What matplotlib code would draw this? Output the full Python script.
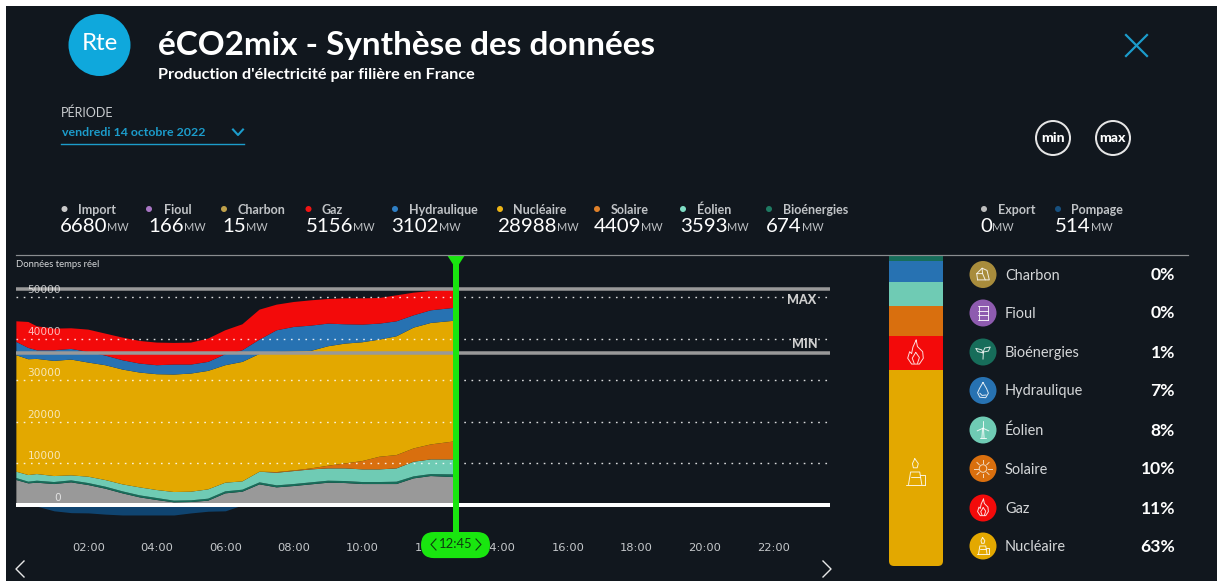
'''
eCO2mix "Synthese des donnees" screen, redrawn with matplotlib.
Overlay axes is in image pixels for the page furniture, the chart and the
stacked bar have their own axes.
'''
import numpy as np
import matplotlib
matplotlib.use('Agg')
import matplotlib.pyplot as plt
from matplotlib.patches import Circle, FancyBboxPatch, Rectangle

# data ########################################################################

hours = [-0.1, 0.25, 0.5, 1, 1.5, 2, 2.5, 3, 3.5, 4, 4.5, 5, 5.5, 6, 6.5, 7,
         7.5, 8, 8.5, 9, 9.5, 10, 10.5, 11, 11.5, 12, 12.75]

importation = [6000, 5200, 5360, 5040, 5440, 4800, 3920, 2800, 1840, 1200, 640, 720, 1040, 2800,
               3200, 4960, 4240, 4560, 4960, 5360, 5280, 5040, 5040, 5040, 6400, 6960, 6680]
bioenergies = [480, 400, 480, 480, 480, 480, 480, 480, 480, 480, 400, 400, 480, 480,
               480, 480, 480, 480, 480, 480, 480, 480, 480, 560, 480, 480, 674]
eolien = [1520, 1600, 1600, 1440, 1200, 1520, 1600, 1680, 1920, 1920, 2080, 2080, 2240, 2080,
          2000, 2560, 3040, 3120, 3120, 2960, 3040, 3040, 3040, 3200, 3520, 3520, 3593]
solaire = [0, 0, 0, 0, 0, 0, 0, 0, 0, 0, 0, 0, 0, 0,
           0, 0, 160, 160, 240, 640, 1200, 2000, 3040, 3200, 3200, 3600, 4409]
nucleaire = [28000, 27840, 27680, 27680, 27840, 27440, 27600, 27600, 27600, 27840, 28240, 28400, 28480, 28240,
             28720, 28320, 28880, 28640, 28240, 28720, 28800, 28560, 28160, 28560, 29040, 29200, 28988]
hydraulique = [3200, 2720, 2080, 2560, 2560, 2560, 2320, 2240, 2160, 2160, 2400, 2160, 2160, 2640,
               2800, 3440, 5200, 5840, 6080, 5440, 4640, 4240, 3840, 3600, 2960, 3040, 3102]
gaz = [4960, 6240, 5760, 5200, 4960, 5360, 5280, 5440, 5440, 5440, 5200, 5280, 5600, 5760,
       6240, 7200, 6160, 6000, 6080, 5920, 6240, 6320, 6160, 6240, 5440, 4640, 4500]
pompage = [0, 0, -300, -1400, -1840, -1900, -2200, -2400, -2400, -2400, -2400, -1900, -1500, -1400,
           0, 0, 0, 0, 0, 0, 0, 0, 0, 0, 0, 0, 0]

y_ticks = [0, 10000, 20000, 30000, 40000, 50000]
x_ticks = [2, 4, 6, 8, 10, 12, 14, 16, 18, 20, 22]
x_labels = ['02:00', '04:00', '06:00', '08:00', '10:00', '12:00', '14:00',
            '16:00', '18:00', '20:00', '22:00']
day_max = 52000
day_min = 36500
cursor_time = 12.75
cursor_label = '12:45'

head_names = ['Import', 'Fioul', 'Charbon', 'Gaz', 'Hydraulique', 'Nucléaire',
              'Solaire', 'Éolien', 'Bioénergies', 'Export', 'Pompage']
head_values = [6680, 166, 15, 5156, 3102, 28988, 4409, 3593, 674, 0, 514]
head_colors = ['#C9C9C9', '#A876C4', '#BFA04A', '#F01414', '#2F7FC4', '#EDB516',
               '#E0812A', '#7FDCC4', '#1E7A62', '#BDBDBD', '#17507F']
# dot x, text x, value x (pixels)
head_dot_x = [64.5, 149, 224, 308.5, 395, 500, 597, 683, 769, 984, 1058]
head_name_x = [78, 164, 238, 322, 408.5, 513.5, 611, 697, 783, 998, 1071]
head_val_x = [60, 148, 222, 306, 391, 497, 594, 680, 766, 980, 1055]

bar_names = ['Nucléaire', 'Gaz', 'Solaire', 'Éolien', 'Hydraulique', 'Bioénergies', 'Fioul', 'Charbon']
bar_values = [28988, 5156, 4409, 3593, 3102, 674, 166, 15]

list_names = ['Charbon', 'Fioul', 'Bioénergies', 'Hydraulique', 'Éolien', 'Solaire', 'Gaz', 'Nucléaire']
list_pct = ['0%', '0%', '1%', '7%', '8%', '10%', '11%', '63%']
list_y = [274.5, 313, 352, 390.5, 430, 468.5, 508, 546]

# styles ######################################################################

BG = '#11171E'
BLUE = '#1C9CCB'
GREEN = '#19E60F'
COLORS = {'Import': '#999999', 'Bioénergies': '#176D5A', 'Éolien': '#6FCBB4',
          'Solaire': '#D96F0E', 'Nucléaire': '#E3A800', 'Hydraulique': '#2772B2',
          'Gaz': '#F30A0A', 'Pompage': '#0F4470', 'Fioul': '#8E5BAF', 'Charbon': '#A88C3C'}
FONT = 'Lato'
W, H = 1217, 581


def px(size):
    # font size given in image pixels
    return size*0.72


def lw(size):
    return size*0.72


# line icons, unit coordinates, y pointing down
GLYPHS = {
    'Charbon': [[(-0.6, 0.6), (-0.7, -0.1), (-0.1, -0.7), (0.45, -0.45), (0.7, 0.6), (-0.6, 0.6)],
                [(-0.1, -0.7), (-0.05, -0.1), (-0.7, -0.1)], [(-0.05, -0.1), (0.25, 0.6)]],
    'Fioul': [[(-0.6, -0.8), (0.6, -0.8)], [(-0.6, 0.8), (0.6, 0.8)], [(-0.5, -0.8), (-0.5, 0.8)],
              [(0.5, -0.8), (0.5, 0.8)], [(-0.6, -0.27), (0.6, -0.27)], [(-0.6, 0.27), (0.6, 0.27)]],
    'Bioénergies': [[(0, 0.8), (0.05, -0.1), (0.2, -0.45), (0.8, -0.55), (0.6, -0.1), (0.05, 0)],
                    [(0, 0.1), (-0.15, -0.25), (-0.8, -0.4), (-0.6, -0.05), (0, 0.1)]],
    'Hydraulique': [[(0, -0.9), (-0.4, -0.2), (-0.6, 0.25), (-0.35, 0.75), (0.3, 0.8), (0.6, 0.3),
                     (0.4, -0.2), (0, -0.9)], [(-0.35, 0.3), (-0.1, 0.55), (0.35, 0.5)]],
    'Éolien': [[(-0.12, 0.9), (-0.05, -0.2)], [(0.12, 0.9), (0.05, -0.2)], [(-0.3, 0.9), (0.3, 0.9)],
               [(0, -0.2), (0, -0.95)], [(0, -0.2), (0.65, 0.1)], [(0, -0.2), (-0.65, 0.1)]],
    'Gaz': [[(0.05, -1), (0.15, -0.5), (0.55, -0.1), (0.6, 0.4), (0.3, 0.85), (-0.3, 0.85), (-0.6, 0.4),
             (-0.45, -0.1), (-0.3, 0.05), (-0.2, -0.45), (0.05, -1)],
            [(0.02, -0.05), (0.3, 0.35), (0.15, 0.8)], [(0.02, -0.05), (-0.25, 0.4), (-0.1, 0.8)]],
    'Nucléaire': [[(-0.5, 0.9), (-0.35, 0), (0.3, 0), (0.45, 0.9)], [(-0.7, 0.9), (0.7, 0.9)],
                  [(0.35, 0.2), (0.7, 0.2), (0.7, 0.9)], [(-0.35, 0.35), (0.35, 0.35)],
                  [(-0.05, -0.95), (0.2, -0.6), (0.12, -0.3), (-0.15, -0.3), (-0.22, -0.6), (-0.05, -0.95)]],
}


def draw_icon(ax, name, cx, cy, r):
    if name == 'Solaire':
        ax.add_patch(Circle((cx, cy), r*0.42, fill=False, ec='#F2D9BE', lw=0.7, zorder=6))
        for a in np.arange(0, 360, 45):
            c, s = np.cos(np.radians(a)), np.sin(np.radians(a))
            ax.plot([cx + c*r*0.6, cx + c*r*0.95], [cy + s*r*0.6, cy + s*r*0.95],
                    color='#F2D9BE', lw=0.7, zorder=6)
        return
    for line in GLYPHS[name]:
        xs = [cx + p[0]*r for p in line]
        ys = [cy + p[1]*r for p in line]
        ax.plot(xs, ys, color='white', lw=0.7, alpha=0.85, zorder=6, solid_capstyle='round')


# figure ######################################################################

fig = plt.figure(figsize=(W/100, H/100), dpi=100, facecolor='white')
fig.add_artist(Rectangle((6/W, 0), 1 - 6/W, 1 - 6/H, transform=fig.transFigure,
                         facecolor=BG, edgecolor='none', zorder=-5))

# pixel overlay
ov = fig.add_axes([0, 0, 1, 1], zorder=3)
ov.set_xlim(0, W)
ov.set_ylim(H, 0)
ov.axis('off')
ov.patch.set_alpha(0)

# chart axes, x 16-830 px, y 256-535 px
left, right, top, bottom = 16, 830, 256, 535
ax = fig.add_axes([left/W, 1 - bottom/H, (right - left)/W, (bottom - top)/H], zorder=1)
ax.patch.set_alpha(0)
zero_px, mw_per_px = 505, 10000/41.6
hour0_px, px_per_hour = 19.8, 34.25
ax.set_xlim((left - hour0_px)/px_per_hour, (right - hour0_px)/px_per_hour)
ax.set_ylim((zero_px - bottom)*mw_per_px, (zero_px - top)*mw_per_px)
for s in ax.spines.values():
    s.set_visible(False)

layers = [importation, bioenergies, eolien, solaire, nucleaire, hydraulique, gaz]
layer_cols = [COLORS[k] for k in ['Import', 'Bioénergies', 'Éolien', 'Solaire', 'Nucléaire', 'Hydraulique', 'Gaz']]
ax.stackplot(hours, layers, colors=layer_cols, lw=0, zorder=2)
ax.fill_between(hours, pompage, 0, color=COLORS['Pompage'], lw=0, zorder=2)

for v in y_ticks[1:]:
    ax.axhline(v, color='white', lw=1, dashes=(1.2, 4), alpha=0.85, zorder=3)
ax.axhline(day_max, color='#999999', lw=lw(3.5), zorder=4)
ax.axhline(day_min, color='#999999', lw=lw(3.5), zorder=4)
ax.axhline(0, color='white', lw=lw(4), zorder=4)

# value labels sit inside the plot
for v in y_ticks:
    ax.text((61 - hour0_px)/px_per_hour, v + 7*mw_per_px, str(v), ha='right', va='center',
            fontsize=px(10.5), color='white', alpha=0.72, zorder=5)

ax.set_xticks(x_ticks)
ax.set_xticklabels(x_labels)
ax.set_yticks([])
ax.tick_params(axis='x', length=0, pad=5.5, labelsize=px(11.5), labelcolor='#C4C7CA')

# cursor
ax.plot([cursor_time, cursor_time], [ax.get_ylim()[0], ax.get_ylim()[1]], color=GREEN,
        lw=lw(6), zorder=6, solid_capstyle='butt', clip_on=False)

ov.fill([447, 465, 456], [255, 255, 269], color=GREEN, lw=0)
ov.add_patch(FancyBboxPatch((421 + 13, 532 + 13), 69 - 26, 0.1,
                            boxstyle='round,pad=13', fc=GREEN, ec='none'))
ov.text(456, 544.5, cursor_label, ha='center', va='center', fontsize=px(13), color='#0E3B10', family=FONT)
ov.plot([436, 431, 436], [539, 544.5, 550], color='#0E3B10', lw=0.8)
ov.plot([476, 481, 476], [539, 544.5, 550], color='#0E3B10', lw=0.8)

ov.text(802, 300, 'MAX', ha='center', va='center', fontsize=px(12.5), color='#CFCFCF',
        family=FONT, fontweight='black')
ov.text(804.5, 343.5, 'MIN', ha='center', va='center', fontsize=px(12.5), color='#CFCFCF',
        family=FONT, fontweight='black')
ov.text(16, 264.5, 'Données temps réel', ha='left', va='center', fontsize=px(9.5), color='#D5D7D9', family=FONT)

# chart navigation
ov.plot([24, 16, 24], [561, 569, 577], color='#E8E8E8', lw=1)
ov.plot([823, 831, 823], [561, 569, 577], color='#E8E8E8', lw=1)

# header
ov.add_patch(Circle((99.5, 45), 31, fc='#0FA8DC', ec='none'))
ov.text(99.5, 44, 'Rte', ha='center', va='center', fontsize=px(24), color='white', family=FONT)
ov.text(158, 45, 'éCO2mix - Synthèse des données', ha='left', va='center', fontsize=px(33.3),
        color='white', family=FONT, fontweight='bold')
ov.text(158, 75, "Production d'électricité par filière en France", ha='left', va='center',
        fontsize=px(16.2), color='white', family=FONT, fontweight='bold')
ov.text(61, 113, 'PÉRIODE', ha='left', va='center', fontsize=px(12.5), color='#C9CCCF', family=FONT)
ov.text(62, 133, 'vendredi 14 octobre 2022', ha='left', va='center', fontsize=px(12.4),
        color=BLUE, family=FONT, fontweight='bold')
ov.plot([233, 238, 243], [129.5, 135, 129.5], color=BLUE, lw=1.5)
ov.plot([61, 244], [143.5, 143.5], color=BLUE, lw=1)

# close cross
ov.plot([1126, 1147], [35, 56], color=BLUE, lw=lw(2.2))
ov.plot([1126, 1147], [56, 35], color=BLUE, lw=lw(2.2))

# min / max buttons
for cx, txt in zip([1053, 1113], ['min', 'max']):
    ov.add_patch(Circle((cx, 138), 17, fc='none', ec='#E6E6E6', lw=lw(2)))
    ov.text(cx, 138.5, txt, ha='center', va='center', fontsize=px(14), color='white',
            family=FONT, fontweight='black')

# live values row
for name, val, col, dx, nx, vx in zip(head_names, head_values, head_colors, head_dot_x, head_name_x, head_val_x):
    ov.add_patch(Circle((dx, 209), 3, fc=col, ec='none'))
    ov.text(nx, 209.5, name, ha='left', va='center', fontsize=px(12.5), color='#C0C3C6',
            family=FONT, fontweight='bold')
    t = ov.text(vx, 226.5, str(val), ha='left', va='center', fontsize=px(20.5), color='white', family=FONT)
    ov.annotate('MW', xy=(1, 0), xycoords=t, xytext=(0, 1.5), textcoords='offset points',
                ha='left', va='bottom', fontsize=px(11), color='#C0C3C6', family=FONT)

ov.plot([16, 1188], [254.7, 254.7], color='#8A8D90', lw=lw(1.2))

# stacked bar of shares
bar_ax = fig.add_axes([889/W, 1 - 566/H, 54/W, 311/H], zorder=2)
bar_ax.set_xlim(0, 1)
bar_ax.set_ylim(0, sum(bar_values))
bar_ax.axis('off')
clip = FancyBboxPatch((889, 230), 54, 336, boxstyle='round,pad=0,rounding_size=5', transform=ov.transData)
base = 0
for name, val in zip(bar_names, bar_values):
    b = bar_ax.bar(0.5, val, width=1, bottom=base, color=COLORS[name], lw=0)
    b[0].set_clip_path(clip)
    base += val
draw_icon(ov, 'Gaz', 915.5, 353, 13)
draw_icon(ov, 'Nucléaire', 915.5, 472, 14)

# list on the right
for name, pct, y in zip(list_names, list_pct, list_y):
    ov.add_patch(Circle((983, y), 13.5, fc=COLORS[name], ec='none', zorder=5))
    draw_icon(ov, name, 983, y, 9)
    ov.text(1005, y + 1, name, ha='left', va='center', fontsize=px(14.5), color='#D5D7D9', family=FONT)
    ov.text(1175, y + 0.5, pct, ha='right', va='center', fontsize=px(17.5), color='white', family=FONT, fontweight='bold')

fig.savefig('out.png', dpi=100, facecolor=fig.get_facecolor())
